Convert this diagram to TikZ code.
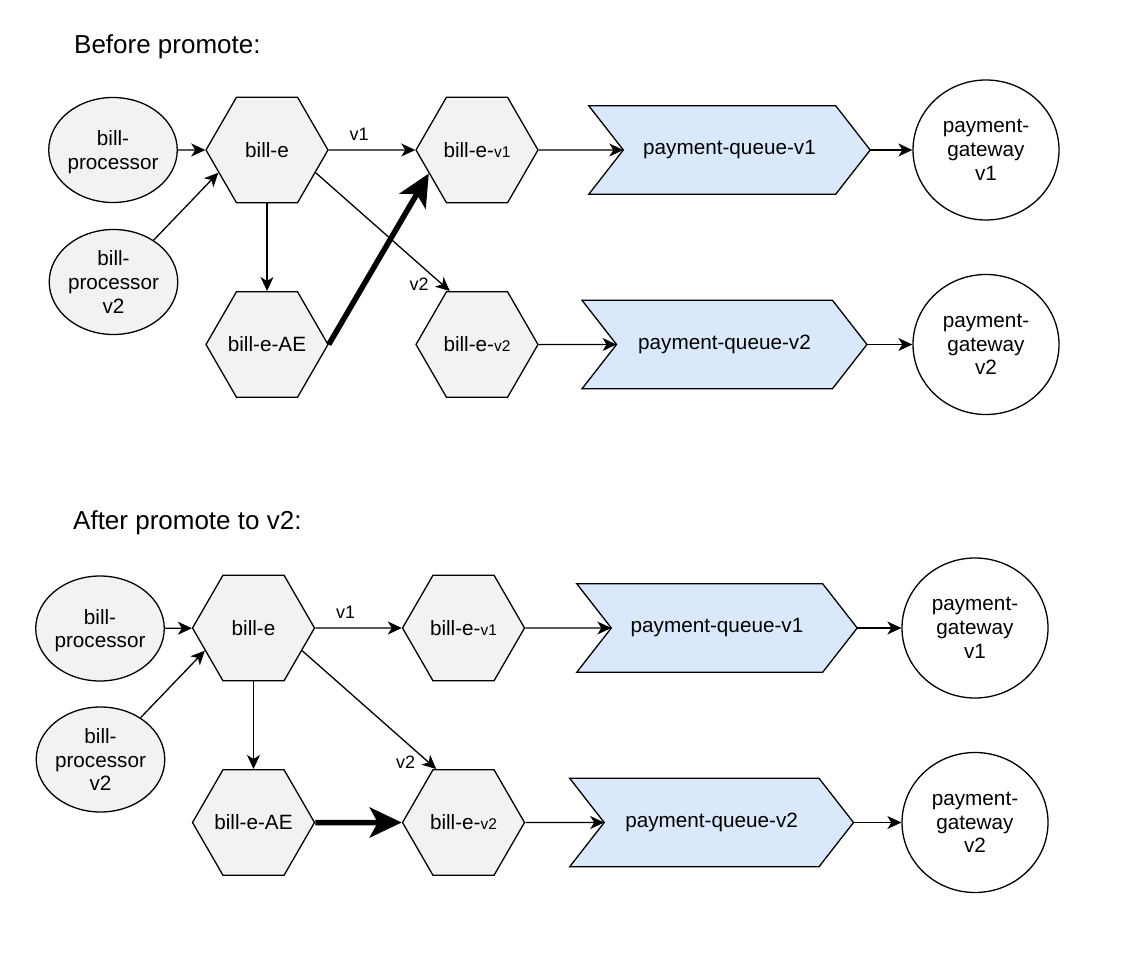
\documentclass[tikz,border=0pt]{standalone}
\usepackage{fontspec}
\setmainfont{Liberation Sans}
\usetikzlibrary{shapes.geometric,arrows.meta,calc,backgrounds}
\definecolor{hexfill}{HTML}{F2F2F2}
\definecolor{qfill}{HTML}{DAE8FC}
\newcommand{\nodefont}{\fontsize{20.7}{23.7}\selectfont}
\newcommand{\edgefont}{\fontsize{18}{21}\selectfont}
\newcommand{\titlefont}{\fontsize{26}{30}\selectfont}
\newcommand{\smallv}{\fontsize{15.5}{18}\selectfont}
\newcommand{\hx}[1]{\makebox[0pt]{#1}}
\tikzset{
  base/.style={line width=1.3pt, draw=black},
  hexa/.style={base, regular polygon, regular polygon sides=6, minimum size=122pt, inner sep=0pt, fill=hexfill, font=\nodefont},
  proc/.style={base, ellipse, minimum width=114pt, minimum height=105pt, inner sep=0pt, fill=hexfill, align=center, font=\nodefont},
  proctwo/.style={proc, text depth=-6pt},
  gate/.style={base, ellipse, minimum width=146pt, minimum height=140pt, inner sep=0pt, fill=white, align=center, font=\nodefont},
  qnode/.style={minimum height=88pt, inner sep=0pt, font=\nodefont},
  qshape/.style={base, fill=qfill, line join=miter},
  conn/.style={line width=1.3pt, -{Stealth[length=14pt,width=13pt,inset=4pt]}},
  thickconn/.style={line width=5.5pt, -{Stealth[length=32pt,width=30pt,inset=8pt]}},
  elabel/.style={font=\edgefont, inner sep=0pt},
  title/.style={font=\titlefont, anchor=base west, inner sep=0pt},
}
\newcommand{\queue}[5]{%
  \node[qnode, minimum width=#4pt] (#1) at (#2,#3) {#5};
  \begin{scope}[on background layer]
    \draw[qshape] (#1.north west) -- ($(#1.north east)+(-34.5,0)$) -- (#1.east)
      -- ($(#1.south east)+(-34.5,0)$) -- (#1.south west) -- ($(#1.west)+(34.5,0)$) -- cycle;
  \end{scope}
  \coordinate (#1n) at ($(#1.west)+(34.5,0)$);
}
\begin{document}
\begin{tikzpicture}[x=1pt,y=-1pt]
\useasboundingbox (0,0) rectangle (1131,957);

% ---------- Before promote ----------
\node[title] (t1) at (74,53.3) {Before promote:};
\node[proctwo] (bp) at (113,150)   {bill-\\processor};
\node[proc] (bp2) at (113.5,282) {bill-\\processor\\v2};
\node[hexa] (be)  at (267,150)   {\hx{bill-e}};
\node[hexa] (be1) at (477,150)   {\hx{bill-e-{\smallv v1}}};
\node[hexa] (bae) at (267,344.5) {\hx{bill-e-AE}};
\node[hexa] (be2) at (477,344.5) {\hx{bill-e-{\smallv v2}}};
\queue{pq1}{729.5}{150}{281}{payment-queue-v1}
\queue{pq2}{724.5}{344.5}{284.5}{payment-queue-v2}
\node[gate] (pg1) at (986,150)   {payment-\\gateway\\v1};
\node[gate] (pg2) at (986,344.5) {payment-\\gateway\\v2};

\draw[conn] (bp) -- (be);
\draw[conn] (bp2) -- (be.205);
\draw[conn] (be) -- node[elabel, pos=0.35, above=9pt] {v1} (be1);
\draw[conn] (be.335) -- node[elabel, pos=0.9, anchor=east, xshift=-7pt, yshift=-5pt] {v2} (be2.117);
\draw[conn] (be) -- (bae);
\draw[thickconn] (bae.east) -- (be1.206);
\draw[conn] (be1) -- (pq1n);
\draw[conn] (be2) -- (pq2n);
\draw[conn] (pq1.east) -- (pg1);
\draw[conn] (pq2.east) -- (pg2);

% ---------- After promote to v2 ----------
\node[title] (t2) at (73,529.3) {After promote to v2:};
\node[proctwo] (bpb) at (100,628.5)  {bill-\\processor};
\node[proc] (bp2b) at (100.5,759.5) {bill-\\processor\\v2};
\node[hexa] (beb)  at (253.5,628)   {\hx{bill-e}};
\node[hexa] (be1b) at (463.5,628)   {\hx{bill-e-{\smallv v1}}};
\node[hexa] (baeb) at (253.5,822.5) {\hx{bill-e-AE}};
\node[hexa] (be2b) at (463.5,822.5) {\hx{bill-e-{\smallv v2}}};
\queue{pq1b}{717}{628}{280}{payment-queue-v1}
\queue{pq2b}{711.6}{822.5}{283.4}{payment-queue-v2}
\node[gate] (pg1b) at (975,628)   {payment-\\gateway\\v1};
\node[gate] (pg2b) at (975,822.5) {payment-\\gateway\\v2};

\draw[conn] (bpb) -- (beb);
\draw[conn] (bp2b) -- (beb.205);
\draw[conn] (beb) -- node[elabel, pos=0.35, above=9pt] {v1} (be1b);
\draw[conn] (beb.335) -- node[elabel, pos=0.9, anchor=east, xshift=-7pt, yshift=-5pt] {v2} (be2b.117);
\draw[conn] (beb) -- (baeb);
\draw[thickconn] (baeb) -- (be2b);
\draw[conn] (be1b) -- (pq1bn);
\draw[conn] (be2b) -- (pq2bn);
\draw[conn] (pq1b.east) -- (pg1b);
\draw[conn] (pq2b.east) -- (pg2b);
\end{tikzpicture}
\end{document}
